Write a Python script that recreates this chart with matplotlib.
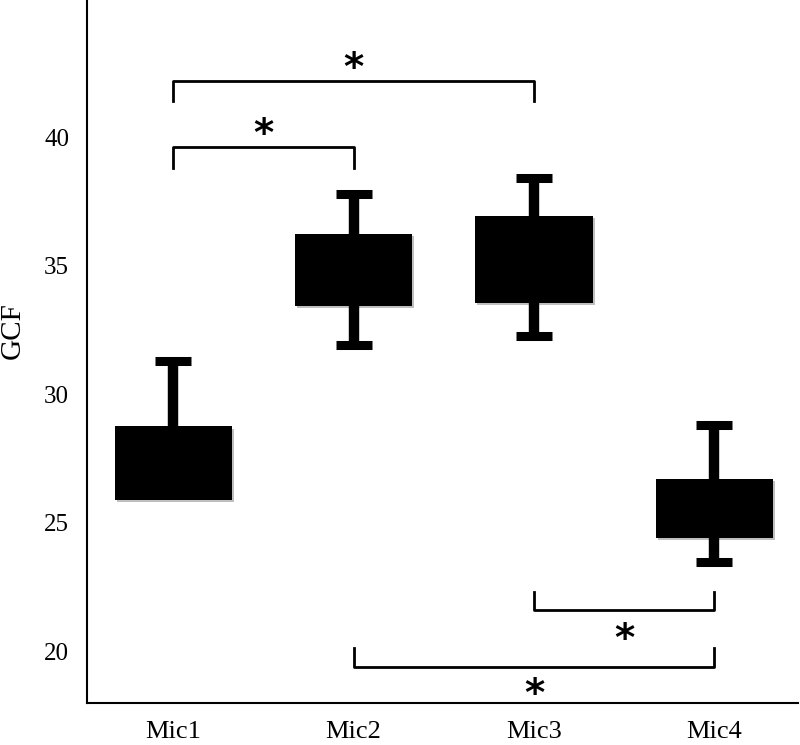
import matplotlib.pyplot as plt
import matplotlib.patheffects as pe

plt.rcParams['font.family'] = ['Liberation Serif', 'DejaVu Serif']

# data
groups = ['Mic1', 'Mic2', 'Mic3', 'Mic4']
box_low = [25.9, 33.45, 33.55, 24.4]
box_high = [28.75, 36.25, 36.95, 26.7]
whisk_low = [None, 31.9, 32.25, 23.5]
whisk_high = [31.3, 37.8, 38.4, 28.8]

# significance brackets: (left group, right group, bar level, leg end, star y)
brackets = [
    (0, 2, 42.2, 41.4, 42.65),
    (0, 1, 39.6, 38.8, 40.1),
    (2, 3, 21.6, 22.3, 20.45),
    (1, 3, 19.4, 20.15, 18.3),
]

fig = plt.figure(figsize=(8, 7.45), dpi=100)
ax = fig.add_axes([0.109, 0.0564, 0.889, 0.9436])

x = [1, 2, 3, 4]
shadow = [pe.SimplePatchShadow(offset=(1.5, -1.5), alpha=0.25), pe.Normal()]

for i in range(4):
    # whiskers
    ax.plot([x[i], x[i]], [box_high[i], whisk_high[i]], color='black', lw=7.5,
            solid_capstyle='butt', zorder=2)
    ax.plot([x[i] - 0.1, x[i] + 0.1], [whisk_high[i], whisk_high[i]], color='black',
            lw=6.5, solid_capstyle='butt', zorder=2)
    if whisk_low[i] is not None:
        ax.plot([x[i], x[i]], [box_low[i], whisk_low[i]], color='black', lw=7.5,
                solid_capstyle='butt', zorder=2)
        ax.plot([x[i] - 0.1, x[i] + 0.1], [whisk_low[i], whisk_low[i]], color='black',
                lw=6.5, solid_capstyle='butt', zorder=2)

bars = ax.bar(x, [h - l for h, l in zip(box_high, box_low)], bottom=box_low,
              width=0.65, color='black', zorder=3)
for b in bars:
    b.set_path_effects(shadow)

for a, b, level, leg, star_y in brackets:
    xa, xb = x[a], x[b]
    ax.plot([xa, xa, xb, xb], [leg, level, level, leg], color='black', lw=2,
            solid_joinstyle='round', zorder=2)
    ax.text((xa + xb) / 2, star_y, '*', ha='center', va='center',
            fontsize=28, fontweight='bold', family='DejaVu Sans')

ax.set_xlim(0.523, 4.466)
ax.set_ylim(18, 45.33)
ax.set_xticks(x)
ax.set_xticklabels(groups, fontsize=19)
ax.set_yticks([20, 25, 30, 35, 40])
ax.tick_params(axis='both', length=0)
ax.tick_params(axis='y', pad=13, labelsize=18)
ax.tick_params(axis='x', pad=13)
ax.set_ylabel('GCF', fontsize=21)
ax.yaxis.set_label_coords(-0.087, 0.53)

ax.spines['top'].set_visible(False)
ax.spines['right'].set_visible(False)
ax.spines['left'].set_linewidth(1.5)
ax.spines['bottom'].set_linewidth(1.5)

plt.savefig('out.png', dpi=100)
